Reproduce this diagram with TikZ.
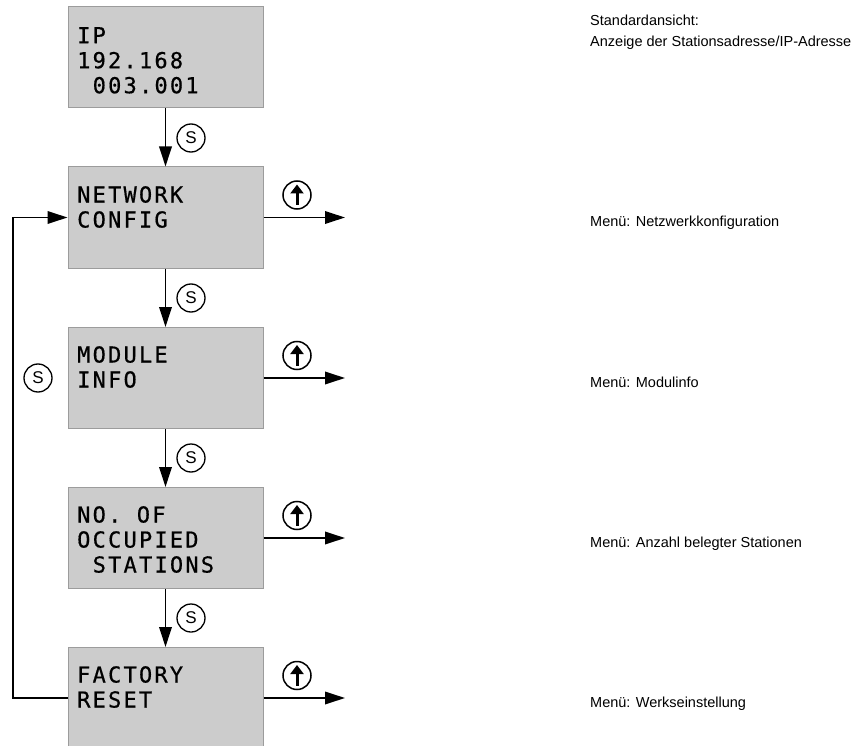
\documentclass[tikz,border=0pt]{standalone}
\usepackage{fontspec}
\setmainfont{Liberation Sans}
\newfontfamily\lcdfont[LetterSpace=10,FakeBold=0.6]{DejaVu Sans Mono}
\usetikzlibrary{arrows.meta}

\definecolor{lcdgray}{HTML}{CCCCCC}
\definecolor{lcdedge}{HTML}{9C9C9C}

\begin{document}
\begin{tikzpicture}[x=1pt,y=-1pt,
  lcdbox/.style={rectangle, draw=lcdedge, fill=lcdgray, line width=1pt,
    minimum width=195pt, minimum height=101pt, inner sep=0pt},
  lcdtext/.style={anchor=north west, inner sep=0pt, align=left,
    font=\lcdfont\fontsize{22}{25}\selectfont},
  keyS/.style={circle, draw, line width=1.3pt, minimum size=28pt, inner sep=0pt,
    font=\fontsize{17}{17}\selectfont},
  keyUp/.style={circle, draw, line width=1.5pt, minimum size=28pt, inner sep=0pt},
  flow/.style={line width=1.8pt, -{Triangle[length=20pt,width=12.5pt]}},
  uparrow/.style={line width=3pt, -{Triangle[length=9pt,width=13pt]}},
  note/.style={anchor=base west, inner sep=0pt, font=\fontsize{14.5}{17}\selectfont}]

\useasboundingbox (0,0) rectangle (862,746);

% display boxes
\node[lcdbox] (b1) at (165.5,57.5) {};
\node[lcdbox] (b2) at (165.5,217.5) {};
\node[lcdbox] (b3) at (165.5,378) {};
\node[lcdbox] (b4) at (165.5,538) {};
\node[lcdbox] (b5) at (165.5,698) {};

% display contents
\node[lcdtext] (t1) at (77,27)  {IP\\192.168\\\hspace*{15.5pt}003.001};
\node[lcdtext] (t2) at (77,186) {NETWORK\\CONFIG};
\node[lcdtext] (t3) at (77,346) {MODULE\\INFO};
\node[lcdtext] (t4) at (77,506) {NO.\hspace*{15.5pt}OF\\OCCUPIED\\\hspace*{15.5pt}STATIONS};
\node[lcdtext] (t5) at (77,666) {FACTORY\\RESET};

% S key steps downwards
\draw[flow] (b1.south) -- (b2.north);
\draw[flow] (b2.south) -- (b3.north);
\draw[flow] (b3.south) -- (b4.north);
\draw[flow] (b4.south) -- (b5.north);
\node[keyS] (s1) at (191,138) {S};
\node[keyS] (s2) at (191,298) {S};
\node[keyS] (s3) at (191,458) {S};
\node[keyS] (s4) at (191,618) {S};

% return path from the last menu to the first menu
\coordinate (rail) at (13,0);
\draw[flow] (b5.west) -- (b5.west -| rail) -- (b2.west -| rail) -- (b2.west);
\node[keyS] (s5) at (38,378) {S};

% up key enters each menu
\coordinate (e2) at (345,217.5);
\coordinate (e3) at (345,378);
\coordinate (e4) at (345,538);
\coordinate (e5) at (345,698);
\draw[flow] (b2.east) -- (e2);
\draw[flow] (b3.east) -- (e3);
\draw[flow] (b4.east) -- (e4);
\draw[flow] (b5.east) -- (e5);
\foreach \n/\y in {u2/195, u3/355.5, u4/515.5, u5/675.5} {
  \node[keyUp] (\n) at (297,\y) {};
  \draw[uparrow] ([yshift=-10pt]\n.center) -- ([yshift=10.5pt]\n.center);
}

% descriptions
\node[note] (n1a) at (590,25.5) {Standardansicht:};
\node[note] (n1b) at (590,47) {Anzeige der Stationsadresse/IP-Adresse};
\node[note] (n2) at (590,227) {Menü: Netzwerkkonfiguration};
\node[note] (n3) at (590,387.5) {Menü: Modulinfo};
\node[note] (n4) at (590,547.5) {Menü: Anzahl belegter Stationen};
\node[note] (n5) at (590,707.5) {Menü: Werkseinstellung};
\end{tikzpicture}
\end{document}
